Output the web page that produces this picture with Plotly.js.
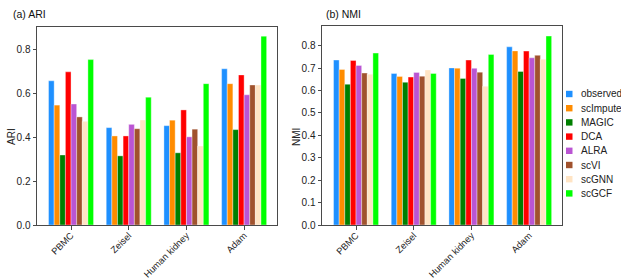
<!DOCTYPE html>
<html>
<head>
<meta charset="utf-8">
<script src="https://cdn.plot.ly/plotly-3.0.1.min.js"></script>
<style>
  html, body { margin: 0; padding: 0; background: #ffffff; }
  #chart { width: 621px; height: 280px; }
</style>
</head>
<body>
<div id="chart"></div>
<script>
// ---- data ----
const datasets = ["PBMC", "Zeisel", "Human kidney", "Adam"];
const methods = ["observed", "scImpute", "MAGIC", "DCA", "ALRA", "scVI", "scGNN", "scGCF"];
const colors = ["#1E90FF", "#FF8C00", "#007F00", "#FF0000", "#BA55D3", "#A0522D", "#FFE4C4", "#00FF00"];

// ARI values per method, across datasets (PBMC, Zeisel, Human kidney, Adam)
const ari_observed = [0.659, 0.445, 0.454, 0.714];
const ari_scImpute = [0.548, 0.407, 0.479, 0.646];
const ari_MAGIC    = [0.320, 0.316, 0.330, 0.436];
const ari_DCA      = [0.700, 0.407, 0.526, 0.686];
const ari_ALRA     = [0.553, 0.460, 0.403, 0.595];
const ari_scVI     = [0.494, 0.440, 0.438, 0.640];
const ari_scGNN    = [0.474, 0.480, 0.361, 0.640];
const ari_scGCF    = [0.756, 0.584, 0.646, 0.863];

// NMI values per method
const nmi_observed = [0.736, 0.676, 0.701, 0.795];
const nmi_scImpute = [0.694, 0.663, 0.700, 0.777];
const nmi_MAGIC    = [0.628, 0.637, 0.654, 0.685];
const nmi_DCA      = [0.734, 0.660, 0.736, 0.776];
const nmi_ALRA     = [0.712, 0.681, 0.699, 0.746];
const nmi_scVI     = [0.678, 0.664, 0.682, 0.757];
const nmi_scGNN    = [0.673, 0.692, 0.619, 0.740];
const nmi_scGCF    = [0.767, 0.676, 0.761, 0.843];

const ariSeries = [ari_observed, ari_scImpute, ari_MAGIC, ari_DCA, ari_ALRA, ari_scVI, ari_scGNN, ari_scGCF];
const nmiSeries = [nmi_observed, nmi_scImpute, nmi_MAGIC, nmi_DCA, nmi_ALRA, nmi_scVI, nmi_scGNN, nmi_scGCF];

const ariTicks = [0.0, 0.2, 0.4, 0.6, 0.8];
const nmiTicks = [0.0, 0.1, 0.2, 0.3, 0.4, 0.5, 0.6, 0.7, 0.8];

// ---- traces ----
const FONT = "Liberation Sans, Arial, sans-serif";
const traces = [];
methods.forEach((m, i) => {
  traces.push({
    type: "bar", name: m, x: datasets, y: ariSeries[i],
    xaxis: "x", yaxis: "y",
    marker: { color: colors[i], line: { color: "rgba(255,255,255,0.6)", width: 0.6 } },
    showlegend: false, hoverinfo: "skip"
  });
  traces.push({
    type: "bar", name: m, x: datasets, y: nmiSeries[i],
    xaxis: "x2", yaxis: "y2",
    marker: { color: colors[i], line: { color: "rgba(255,255,255,0.6)", width: 0.6 } },
    showlegend: false, hoverinfo: "skip"
  });
});

// ---- layout helpers ----
const W = 621, H = 280;
const px = v => v / W;
const py = v => 1 - v / H;

const axisCommon = {
  showgrid: false, zeroline: false,
  showline: true, mirror: true, linecolor: "#4a4a4a", linewidth: 1,
  ticks: "outside", ticklen: 3.5, tickwidth: 1, tickcolor: "#4a4a4a",
  tickfont: { family: FONT, size: 10, color: "#222" }
};

const shapes = [];
const annotations = [
  { text: "(a) ARI", x: px(11), y: py(14), xref: "paper", yref: "paper",
    xanchor: "left", yanchor: "middle", showarrow: false,
    font: { family: FONT, size: 10.5, color: "#111" } },
  { text: "(b) NMI", x: px(324), y: py(14), xref: "paper", yref: "paper",
    xanchor: "left", yanchor: "middle", showarrow: false,
    font: { family: FONT, size: 10.5, color: "#111" } },
  { text: "ARI", x: px(11), y: py(137), xref: "paper", yref: "paper",
    xanchor: "center", yanchor: "middle", showarrow: false, textangle: -90,
    font: { family: FONT, size: 10, color: "#222" } },
  { text: "NMI", x: px(296), y: py(137), xref: "paper", yref: "paper",
    xanchor: "center", yanchor: "middle", showarrow: false, textangle: -90,
    font: { family: FONT, size: 10, color: "#222" } }
];

// custom compact legend built from methods/colors
methods.forEach((m, i) => {
  const cy = 94 + i * 14.2;
  shapes.push({
    type: "rect", xref: "paper", yref: "paper",
    x0: px(566), x1: px(572.5), y0: py(cy - 3.2), y1: py(cy + 3.2),
    fillcolor: colors[i], line: { width: 0 }
  });
  annotations.push({
    text: m, x: px(579), y: py(cy), xref: "paper", yref: "paper",
    xanchor: "left", yanchor: "middle", showarrow: false,
    font: { family: FONT, size: 10, color: "#222" }
  });
});

const xTickFont = { family: FONT, size: 9.3, color: "#222" };

const layout = {
  width: W, height: H,
  margin: { l: 0, r: 0, t: 0, b: 0 },
  paper_bgcolor: "#ffffff", plot_bgcolor: "#ffffff",
  barmode: "group", bargap: 0.22, bargroupgap: 0,
  showlegend: false,
  font: { family: FONT },
  xaxis: Object.assign({}, axisCommon, {
    domain: [px(37), px(277)], anchor: "y",
    type: "category", range: [-0.59, 3.57], tickangle: -45,
    tickfont: xTickFont, ticklabelstandoff: -3
  }),
  yaxis: Object.assign({}, axisCommon, {
    domain: [py(225), py(27)], anchor: "x",
    range: [0, 0.905], tickvals: ariTicks, ticktext: ariTicks.map(v => v.toFixed(1))
  }),
  xaxis2: Object.assign({}, axisCommon, {
    domain: [px(322), px(562)], anchor: "y2",
    type: "category", range: [-0.59, 3.57], tickangle: -45,
    tickfont: xTickFont, ticklabelstandoff: -3
  }),
  yaxis2: Object.assign({}, axisCommon, {
    domain: [py(225), py(26)], anchor: "x2",
    range: [0, 0.888], tickvals: nmiTicks, ticktext: nmiTicks.map(v => v.toFixed(1))
  }),
  shapes: shapes,
  annotations: annotations
};

Plotly.newPlot("chart", traces, layout, { staticPlot: true, displayModeBar: false });
</script>
</body>
</html>
